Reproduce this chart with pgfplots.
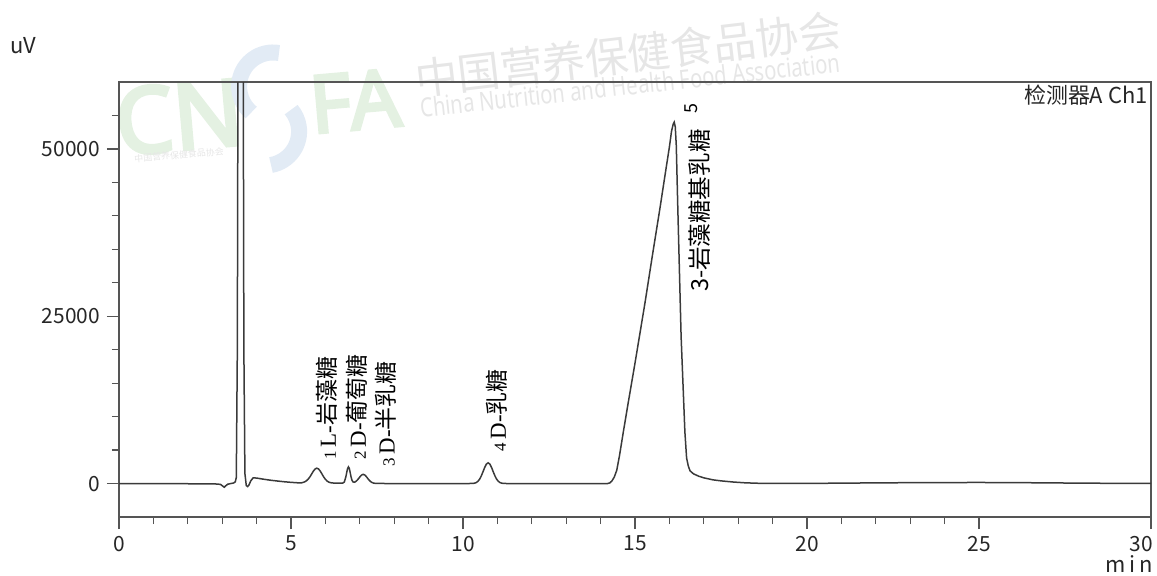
\documentclass[border=0pt]{standalone}
\usepackage{fontspec}
\usepackage{graphicx}
\usepackage{pgfplots}
\pgfplotsset{compat=1.18}
\setmainfont{Liberation Serif}
\setsansfont{Noto Sans}
\newfontfamily\gothic{Noto Sans CJK JP}
\newfontfamily\cjk{Noto Sans CJK SC}
\newfontfamily\logofont[FakeBold=4]{Noto Sans}
\definecolor{trace}{HTML}{3A3A3A}
\definecolor{frame}{HTML}{555555}
\definecolor{wmgray}{HTML}{E6E6E6}
\definecolor{wmgreen}{HTML}{E4F1E2}
\definecolor{wmblue}{HTML}{E2EBF5}

% detector signal (min, uV)
\pgfplotstableread{
t v
0 0
1.0 -20
2.0 -30
2.8 -60
2.95 -120
3.02 -400
3.06 -550
3.10 -350
3.16 -100
3.25 0
3.33 80
3.38 250
3.41 900
3.44 20000
3.47 90000
3.535 160000
3.60 90000
3.63 20000
3.66 1500
3.70 -300
3.74 -450
3.78 -200
3.83 400
3.90 850
4.00 820
4.20 650
4.40 500
4.60 380
4.80 270
5.00 180
5.20 110
5.30 100
5.35 170
5.40 260
5.45 420
5.50 660
5.55 1000
5.60 1420
5.65 1850
5.70 2170
5.75 2300
5.80 2180
5.85 1860
5.90 1430
5.95 990
6.00 630
6.05 370
6.10 210
6.15 130
6.20 90
6.30 60
6.40 50
6.50 60
6.55 230
6.595 1010
6.62 1660
6.645 2250
6.67 2490
6.695 2250
6.72 1660
6.745 1010
6.77 540
6.80 250
6.85 200
6.90 370
6.95 650
7.00 985
7.05 1265
7.10 1375
7.15 1260
7.20 975
7.25 635
7.30 350
7.35 165
7.40 70
7.45 30
7.60 10
8.0 0
9.0 -10
10.0 -10
10.28 15
10.33 53
10.38 137
10.43 315
10.48 630
10.53 1120
10.58 1745
10.63 2400
10.68 2910
10.73 3100
10.78 2910
10.83 2400
10.88 1745
10.93 1120
10.98 630
11.03 315
11.08 137
11.13 53
11.18 18
11.3 0
12.0 0
13.0 0
14.0 0
14.20 0
14.27 100
14.33 400
14.40 1000
14.47 2000
14.55 4200
14.66 7700
14.80 12000
15.00 18000
15.29 27000
15.50 33900
15.73 41300
15.90 47000
16.00 50300
16.06 52600
16.11 53700
16.14 54000
16.17 53300
16.20 50500
16.24 42000
16.34 22000
16.45 7700
16.50 3800
16.55 2600
16.60 1900
16.70 1450
16.85 1100
17.00 850
17.27 550
17.50 400
17.85 230
18.20 110
18.70 20
19.0 10
20.0 20
21.0 60
22.0 100
23.0 130
24.0 150
25.0 160
26.0 140
27.0 100
28.0 60
29.0 30
30.0 20
}\signal

\begin{document}
\begin{tikzpicture}[x=1bp,y=1bp]
\path[use as bounding box] (-59.5,-29) rectangle (519,258.5);

% association watermark
\node[rotate=5, text=wmgreen, font=\logofont\fontsize{46}{46}\selectfont] at (30,200) {CN};
\node[rotate=5, text=wmgreen, font=\logofont\fontsize{40}{40}\selectfont] at (118,208) {FA};
\draw[wmblue, line width=8bp] (80,232) arc (80:230:17);
\draw[wmblue, line width=8bp] (76,176) arc (-80:40:17);
\node[rotate=5, text=wmgray, font=\cjk\fontsize{4.5}{5}\selectfont] at (30,181) {中国营养保健食品协会};
\node[rotate=6.7, text=wmgray, font=\cjk\fontsize{21.5}{22}\selectfont] at (254.5,231.5) {中国营养保健食品协会};
\node[rotate=6.2, text=wmgray, inner sep=0] at (255.5,216) {\resizebox{211bp}{10bp}{\sffamily China Nutrition and Health Food Association}};

\begin{axis}[
  at={(0,0)}, anchor=south west,
  width=516bp, height=217.5bp, scale only axis,
  xmin=0, xmax=30, ymin=-5000, ymax=60000,
  xtick={0,5,...,25}, minor x tick num=4,
  extra x ticks={30},
  extra x tick style={xticklabel style={xshift=-4.75bp}},
  ytick={0,25000,50000},
  minor ytick={5000,10000,15000,20000,30000,35000,40000,45000,55000},
  xtick pos=bottom, ytick pos=left,
  tick align=outside,
  major tick length=6bp, minor tick length=3.5bp,
  every tick/.style={frame, line width=0.6bp},
  axis line style={frame, line width=0.9bp},
  ticklabel style={font=\gothic\fontsize{10.5}{12}\selectfont, text=black!85},
  /pgf/number format/assume math mode=true,
  /pgf/number format/1000 sep={},
  scaled y ticks=false,
  clip mode=individual,
]
\addplot[trace, line width=0.75bp] table[x=t, y=v] {\signal};

% peak annotations
\node[rotate=90, anchor=west, inner sep=0, font=\fontsize{11.5}{12}\selectfont]
  at (axis cs:6.05,3500) {{\fontsize{8.5}{9}\selectfont 1}\,L-{\cjk 岩藻糖}};
\node[rotate=90, anchor=west, inner sep=0, font=\fontsize{11.5}{12}\selectfont]
  at (axis cs:6.92,3500) {{\fontsize{8.5}{9}\selectfont 2}\,D-{\cjk 葡萄糖}};
\node[rotate=90, anchor=west, inner sep=0, font=\fontsize{11.5}{12}\selectfont]
  at (axis cs:7.76,2450) {{\fontsize{8.5}{9}\selectfont 3}\,D-{\cjk 半乳糖}};
\node[rotate=90, anchor=west, inner sep=0, font=\fontsize{11.5}{12}\selectfont]
  at (axis cs:10.99,4700) {{\fontsize{8.5}{9}\selectfont 4}\,D-{\cjk 乳糖}};
\node[rotate=90, inner sep=0, font=\gothic\fontsize{9}{9}\selectfont]
  at (axis cs:16.62,56000) {5};
\node[rotate=90, anchor=west, inner sep=0, font=\cjk\fontsize{11.8}{12}\selectfont]
  at (axis cs:16.89,28600) {3-岩藻糖基乳糖};

\node[anchor=north east, inner sep=1.5bp, font=\gothic\fontsize{11}{12}\selectfont, text=black!85]
  at (rel axis cs:1,1) {检测器A Ch1};
\end{axis}

\node[font=\gothic\fontsize{11}{12}\selectfont, text=black!85] at (-48,235.5) {uV};
\node[anchor=base east, inner sep=0, font=\gothic\fontsize{11}{12}\selectfont, text=black!85]
  at (517,-27.5) {m\,i\,n};
\end{tikzpicture}
\end{document}
